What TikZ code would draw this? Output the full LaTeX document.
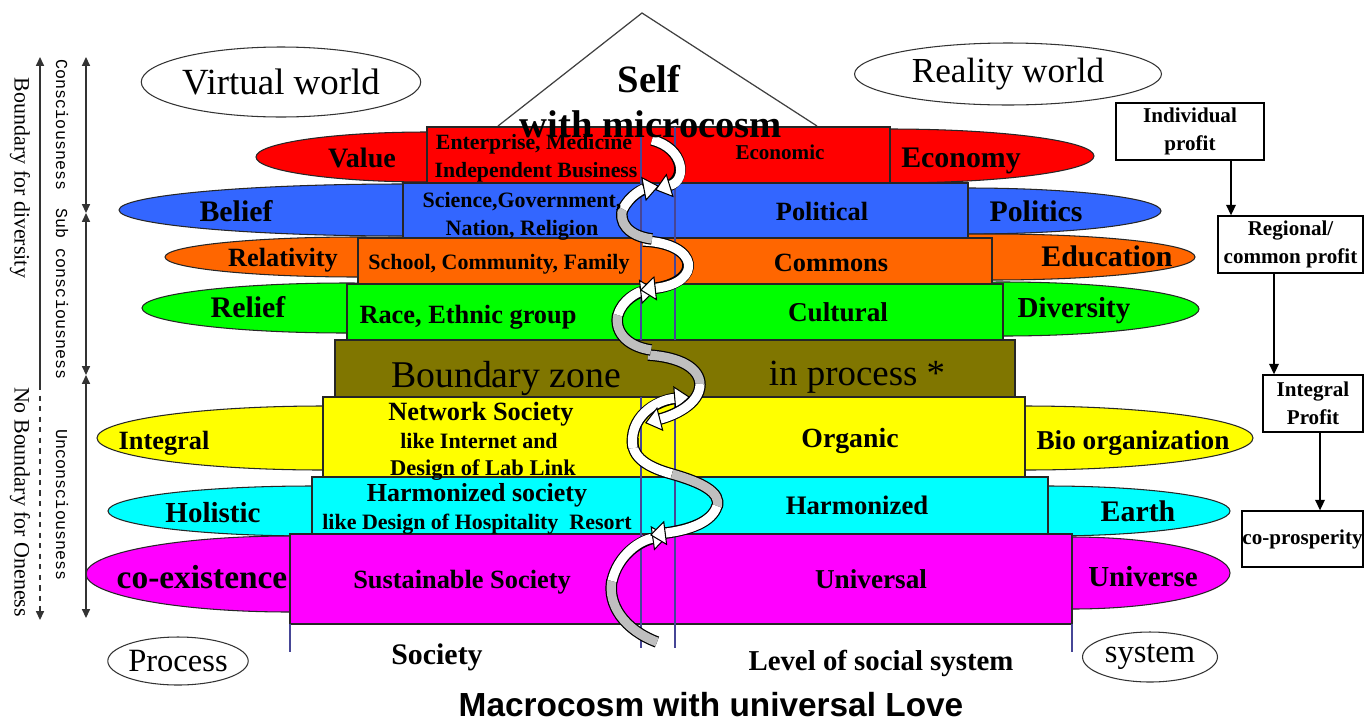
\documentclass[tikz,border=0pt]{standalone}
\usepackage{fontspec}
\setmainfont{Liberation Serif}
\newfontfamily\titlefont{Liberation Sans}
\newfontfamily\labelmono{Liberation Mono}
\usetikzlibrary{arrows.meta,calc,shapes.geometric}

\definecolor{cred}{RGB}{255,0,0}
\definecolor{cblue}{RGB}{51,102,255}
\definecolor{corange}{RGB}{255,102,0}
\definecolor{cgreen}{RGB}{0,255,0}
\definecolor{colive}{RGB}{128,118,0}
\definecolor{cyellow}{RGB}{255,255,0}
\definecolor{ccyan}{RGB}{0,255,255}
\definecolor{cmagenta}{RGB}{255,0,255}
\definecolor{colline}{RGB}{70,70,150}

\tikzset{
  band/.style={draw=black!85,line width=0.6pt},
  petal/.style={draw=black!85,line width=0.6pt},
  bt/.style={font=\bfseries\fontsize{#1}{#1}\selectfont,inner sep=0pt,anchor=base,yshift={-0.33*#1pt}},
  rt/.style={font=\fontsize{#1}{#1}\selectfont,inner sep=0pt,anchor=base,yshift={-0.33*#1pt}},
  worldell/.style={draw=black!80,line width=0.6pt,ellipse,inner sep=0pt},
  pbox/.style={draw=black,line width=0.8pt,fill=white,inner sep=0pt,align=center,
    font=\bfseries\fontsize{12}{16}\selectfont},
  parrow/.style={line width=0.8pt,-{Triangle[length=6pt,width=5.5pt]}},
  vline/.style={line width=0.8pt,black!80},
  varrow/.style={line width=0.8pt,black!80,{Triangle[length=5pt,width=4.5pt]}-{Triangle[length=5pt,width=4.5pt]}},
  sidelbl/.style={font=\fontsize{12.5}{12.5}\selectfont,rotate=-90,inner sep=0pt},
  innerlbl/.style={font=\labelmono\fontsize{9.5}{9.5}\selectfont,rotate=-90,inner sep=0pt},
  colln/.style={colline,line width=0.7pt},
}
\newcommand\petal[5]{\path[petal,fill=#1] (#2,#3) ellipse [x radius=#4*0.02cm, y radius=#5*0.02cm];}
\newcommand\bandrect[5]{\path[band,fill=#1] (#2,#3) rectangle (#4,#5);}
\newcommand\ribbonpath[2]{%
  \draw[line width=6.6pt,black,line cap=butt] #1;
  \draw[line width=5.2pt,#2,line cap=butt] #1;}
\newcommand\ribbonarrow[1]{%
  \draw[line width=6.6pt,black,line cap=butt,shorten >=7pt] #1;
  \draw[line width=5.2pt,white,line cap=butt,-{Triangle[length=9pt 0 0,width=14pt 0 0,color=black,fill=white,line width'=0.6pt]}] #1;}

\begin{document}
\begin{tikzpicture}[x=0.02cm,y=-0.02cm]
\useasboundingbox (0,0) rectangle (1365,724);
\fill[white] (0,0) rectangle (1365,724);

% apex triangle
\coordinate (tl) at (498,126);
\coordinate (tt) at (642,13);
\coordinate (tr) at (817,126);
\draw[black!75,line width=0.7pt] (tl) -- (tt) -- (tr);

% world ellipses
\node[worldell,minimum width=5.54cm,minimum height=1.4cm,font=\fontsize{21}{21}\selectfont] (vw) at (281,82) {Virtual world};
\node[worldell,minimum width=6.14cm,minimum height=1.24cm,font=\fontsize{20}{20}\selectfont] (rw) at (1008,74) {Reality world};

% petals (left / right)
\petal{cred}{427}{157}{171}{25}
\petal{cred}{890}{156}{204}{27}
\petal{cblue}{403}{210}{284}{26}
\petal{cblue}{968}{211}{193}{23}
\petal{corange}{358}{257}{193}{20}
\petal{corange}{992}{257}{203}{23}
\petal{cgreen}{347}{308}{205}{25}
\petal{cgreen}{1003}{309}{196}{27}
\petal{cyellow}{323}{438}{226}{32}
\petal{cyellow}{1025}{438}{228}{32}
\petal{ccyan}{312}{511}{204}{25}
\petal{ccyan}{1048}{511}{182}{25}
\petal{cmagenta}{290}{574}{204}{38}
\petal{cmagenta}{1072}{573}{158}{36}

% bands
\bandrect{cred}{427}{127}{890}{183}
\bandrect{cblue}{403}{183}{968}{238}
\bandrect{corange}{358}{238}{992}{284}
\bandrect{cgreen}{347}{284}{1003}{340}
\bandrect{colive}{335}{340}{1015}{397}
\bandrect{cyellow}{323}{397}{1025}{477}
\bandrect{ccyan}{312}{477}{1048}{534}
\bandrect{cmagenta}{290}{534}{1072}{624}

% column lines
\draw[colln] (641,127) -- (641,340);
\draw[colln] (675,127) -- (675,340);
\draw[colln] (641,397) -- (641,648);
\draw[colln] (675,397) -- (675,648);
\draw[colln] (290,624) -- (290,652);
\draw[colln] (1072,624) -- (1072,652);

% spiral ribbon
\ribbonpath{(657,642) .. controls (625,630) and (607,605) .. (612,580)}{black!25}
\ribbonarrow{(612,581) .. controls (618,555) and (640,540) .. (668,536)}
\ribbonpath{(633,438) .. controls (630,458) and (650,468) .. (672,474)}{white}
\ribbonpath{(672,474) .. controls (700,482) and (722,492) .. (717,507)}{black!25}
\ribbonarrow{(717,506) .. controls (712,522) and (690,530) .. (650,535)}
\ribbonarrow{(633,448) .. controls (628,418) and (655,400) .. (690,397)}
\ribbonpath{(648,355) .. controls (680,357) and (700,368) .. (700,385)}{black!25}
\ribbonarrow{(700,384) .. controls (700,405) and (672,416) .. (645,423)}
\ribbonpath{(651,350) .. controls (625,346) and (614,330) .. (618,314)}{black!25}
\ribbonarrow{(618,315) .. controls (622,300) and (638,292) .. (656,290)}
\ribbonarrow{(643,241) .. controls (700,243) and (703,283) .. (640,290)}
\ribbonpath{(652,239) .. controls (628,236) and (618,222) .. (623,208)}{black!25}
\ribbonarrow{(623,209) .. controls (630,195) and (643,189) .. (659,186)}
\ribbonarrow{(652,140) .. controls (684,148) and (688,180) .. (655,190)}

% self
\node[bt=22] (tself) at (649,80) {Self};
\node[bt=22] (tmicro) at (651,125) {with microcosm};

% red
\node[bt=16] (tvalue) at (362,158) {Value};
\node[bt=12.4] (tent1) at (534,142) {Enterprise, Medicine};
\node[bt=12.4] (tent2) at (536,170) {Independent Business};
\node[bt=12] (tecon) at (780,153) {Economic};
\node[bt=17] (tecony) at (961,158) {Economy};
% blue
\node[bt=17] (tbelief) at (236,212) {Belief};
\node[bt=12.5] (tsci1) at (522,200) {Science,Government,};
\node[bt=12.5] (tsci2) at (522,228) {Nation, Religion};
\node[bt=15] (tpolit) at (822,212) {Political};
\node[bt=17] (tpolitics) at (1036,212) {Politics};
% orange
\node[bt=15] (trel) at (283,258) {Relativity};
\node[bt=12.5] (tsch) at (499,262) {School, Community, Family};
\node[bt=15] (tcomm) at (831,263) {Commons};
\node[bt=17] (tedu) at (1107,257) {Education};
% green
\node[bt=17] (trelief) at (248,308) {Relief};
\node[bt=15] (trace) at (468,315) {Race, Ethnic group};
\node[bt=15.5] (tcult) at (838,313) {Cultural};
\node[bt=16.5] (tdiv) at (1074,308) {Diversity};
% olive
\node[rt=21.5] (tbz) at (506,375) {Boundary zone};
\node[rt=21] (tinp) at (857,373) {in process *};
% yellow
\node[bt=15] (tint) at (164,441) {Integral};
\node[bt=15] (tnet1) at (481,412) {Network Society};
\node[bt=12.5] (tnet2) at (479,441) {like Internet and};
\node[bt=12.8] (tnet3) at (483,468) {Design of Lab Link};
\node[bt=15.8] (torg) at (850,438) {Organic};
\node[bt=15.5] (tbio) at (1133,441) {Bio organization};
% cyan
\node[bt=16.5] (thol) at (213,513) {Holistic};
\node[bt=14.8] (thar1) at (477,493) {Harmonized society};
\node[bt=12.5] (thar2) at (477,522) {like Design of Hospitality\ \ Resort};
\node[bt=15.2] (tharm) at (857,506) {Harmonized};
\node[bt=17] (tearth) at (1138,512) {Earth};
% magenta
\node[bt=19] (tcoex) at (202,577) {co-existence};
\node[bt=15] (tsus) at (462,580) {Sustainable Society};
\node[bt=15.5] (tuni) at (871,580) {Universal};
\node[bt=16.5] (tuniv) at (1143,577) {Universe};

% bottom
\node[worldell,minimum width=2.8cm,minimum height=0.96cm,font=\fontsize{18.5}{18.5}\selectfont] (proc) at (178,661) {Process};
\node[worldell,minimum width=2.7cm,minimum height=1.0cm,font=\fontsize{18.5}{18.5}\selectfont] (sys) at (1150,657) {system};
\node[bt=17] (tsoc) at (437,655) {Society};
\node[bt=16.4] (tlevel) at (881,661) {Level of social system};
\node[font=\titlefont\bfseries\fontsize{19}{19}\selectfont,inner sep=0pt,anchor=base] (title) at (711,716) {Macrocosm with universal Love};

% left scale
\coordinate (a0) at (40,57);
\coordinate (a1) at (40,385);
\coordinate (a2) at (40,620);
\draw[vline,{Triangle[length=5pt,width=4.5pt]}-] (a0) -- (a1);
\draw[vline,dashed,-{Triangle[length=5pt,width=4.5pt]}] (a1) -- (a2);
\coordinate (b0) at (86,57);
\coordinate (b1) at (86,213);
\coordinate (b2) at (86,375);
\coordinate (b3) at (86,618);
\draw[varrow] (b0) -- (b1);
\draw[varrow] (b1) -- (b2);
\draw[varrow] (b2) -- (b3);
\node[sidelbl] (lbd) at (20,178) {Boundary for diversity};
\node[sidelbl] (lnb) at (20,502) {No Boundary for Oneness};
\node[innerlbl] (lcon) at (62,125) {Consciousness};
\node[innerlbl] (lsub) at (62,294) {Sub consciousness};
\node[innerlbl] (lunc) at (62,505) {Unconsciousness};

% right profit chain
\node[pbox,minimum width=2.96cm,minimum height=1.14cm] (ind) at (1190,131.5) {Individual\\profit};
\node[pbox,minimum width=2.9cm,minimum height=1.14cm] (reg) at (1290.5,244.5) {Regional/\\common profit};
\node[pbox,minimum width=2.0cm,minimum height=1.14cm] (intp) at (1313,403.5) {Integral\\Profit};
\node[pbox,minimum width=2.42cm,minimum height=1.12cm] (cop) at (1302.5,539) {co-prosperity};
\coordinate (x1) at (1231,0);
\coordinate (x2) at (1274,0);
\coordinate (x3) at (1320,0);
\draw[parrow] (ind.south -| x1) -- (reg.north -| x1);
\draw[parrow] (reg.south -| x2) -- (intp.north -| x2);
\draw[parrow] (intp.south -| x3) -- (cop.north -| x3);
\end{tikzpicture}
\end{document}
